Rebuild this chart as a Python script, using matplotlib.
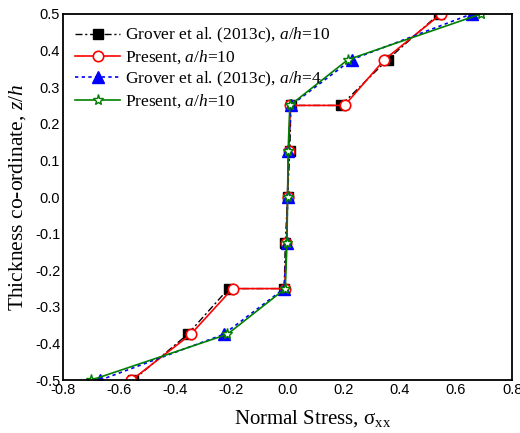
import matplotlib

matplotlib.use("Agg")
import matplotlib.pyplot as plt

# thickness positions (interfaces at +/-0.25 carry two values for a/h=10)
z_10 = [-0.5, -0.375, -0.25, -0.25, -0.125, 0.0, 0.125, 0.25, 0.25, 0.375, 0.5]
z_4 = [-0.5, -0.375, -0.25, -0.125, 0.0, 0.125, 0.25, 0.375, 0.5]

grover_10 = [-0.550, -0.356, -0.210, -0.012, -0.008, 0.0, 0.008, 0.012, 0.190, 0.356, 0.540]
present_10 = [-0.556, -0.345, -0.196, -0.010, -0.004, 0.0, 0.004, 0.010, 0.203, 0.345, 0.547]
grover_4 = [-0.668, -0.228, -0.012, -0.003, 0.0, 0.003, 0.012, 0.228, 0.656]
present_4 = [-0.700, -0.215, -0.008, -0.002, 0.0, 0.002, 0.008, 0.215, 0.690]

x_ticks = [-0.8, -0.6, -0.4, -0.2, 0.0, 0.2, 0.4, 0.6, 0.8]
y_ticks = [-0.5, -0.4, -0.3, -0.2, -0.1, 0.0, 0.1, 0.2, 0.3, 0.4, 0.5]

plt.rcParams.update(
    {
        "font.family": "Liberation Serif",
        "mathtext.fontset": "custom",
        "mathtext.rm": "Liberation Serif",
        "mathtext.it": "Liberation Serif:italic",
        "mathtext.bf": "Liberation Serif:bold",
    }
)

fig = plt.figure(figsize=(5.2, 4.33), dpi=100)
ax = fig.add_axes([0.121, 0.122, 0.864, 0.846])

ax.plot(grover_10, z_10, color="black", linestyle=(0, (5, 2, 1.5, 2)), linewidth=1.0,
        marker="s", markersize=7, markerfacecolor="black",
        label=r"Grover et al. (2013c), $a/h$=10")
ax.plot(present_10, z_10, color="red", linestyle="-", linewidth=1.2,
        marker="o", markersize=7.5, markerfacecolor="white", markeredgewidth=1.2,
        label=r"Present, $a/h$=10")
ax.plot(grover_4, z_4, color="blue", linestyle=(0, (2, 2)), linewidth=1.2,
        marker="^", markersize=9, markerfacecolor="blue",
        label=r"Grover et al. (2013c), $a/h$=4")
ax.plot(present_4, z_4, color="green", linestyle="-", linewidth=1.2,
        marker="*", markersize=8, markerfacecolor="white", markeredgewidth=1.0,
        label=r"Present, $a/h$=10")

ax.set_xlim(-0.8, 0.8)
ax.set_ylim(-0.5, 0.5)
ax.set_xticks(x_ticks)
ax.set_yticks(y_ticks)
ax.set_xticklabels([f"{v:.1f}" for v in x_ticks], family="Liberation Sans", fontsize=10.5)
ax.set_yticklabels([f"{v:.1f}" for v in y_ticks], family="Liberation Sans", fontsize=10.5)
ax.tick_params(length=0, pad=2)
for spine in ax.spines.values():
    spine.set_linewidth(1.3)

ax.set_xlabel(r"Normal Stress, $\mathrm{\sigma}_{\mathrm{xx}}$", fontsize=15, labelpad=5)
ax.xaxis.set_label_coords(0.555, -0.075)
ax.set_ylabel(r"Thickness co-ordinate, $z/h$", fontsize=15.5, labelpad=5)

ax.legend(loc="upper left", frameon=False, fontsize=12.5, handlelength=2.6,
          handletextpad=0.3, labelspacing=0.2, borderaxespad=0.3)

fig.savefig("out.png", dpi=100)
